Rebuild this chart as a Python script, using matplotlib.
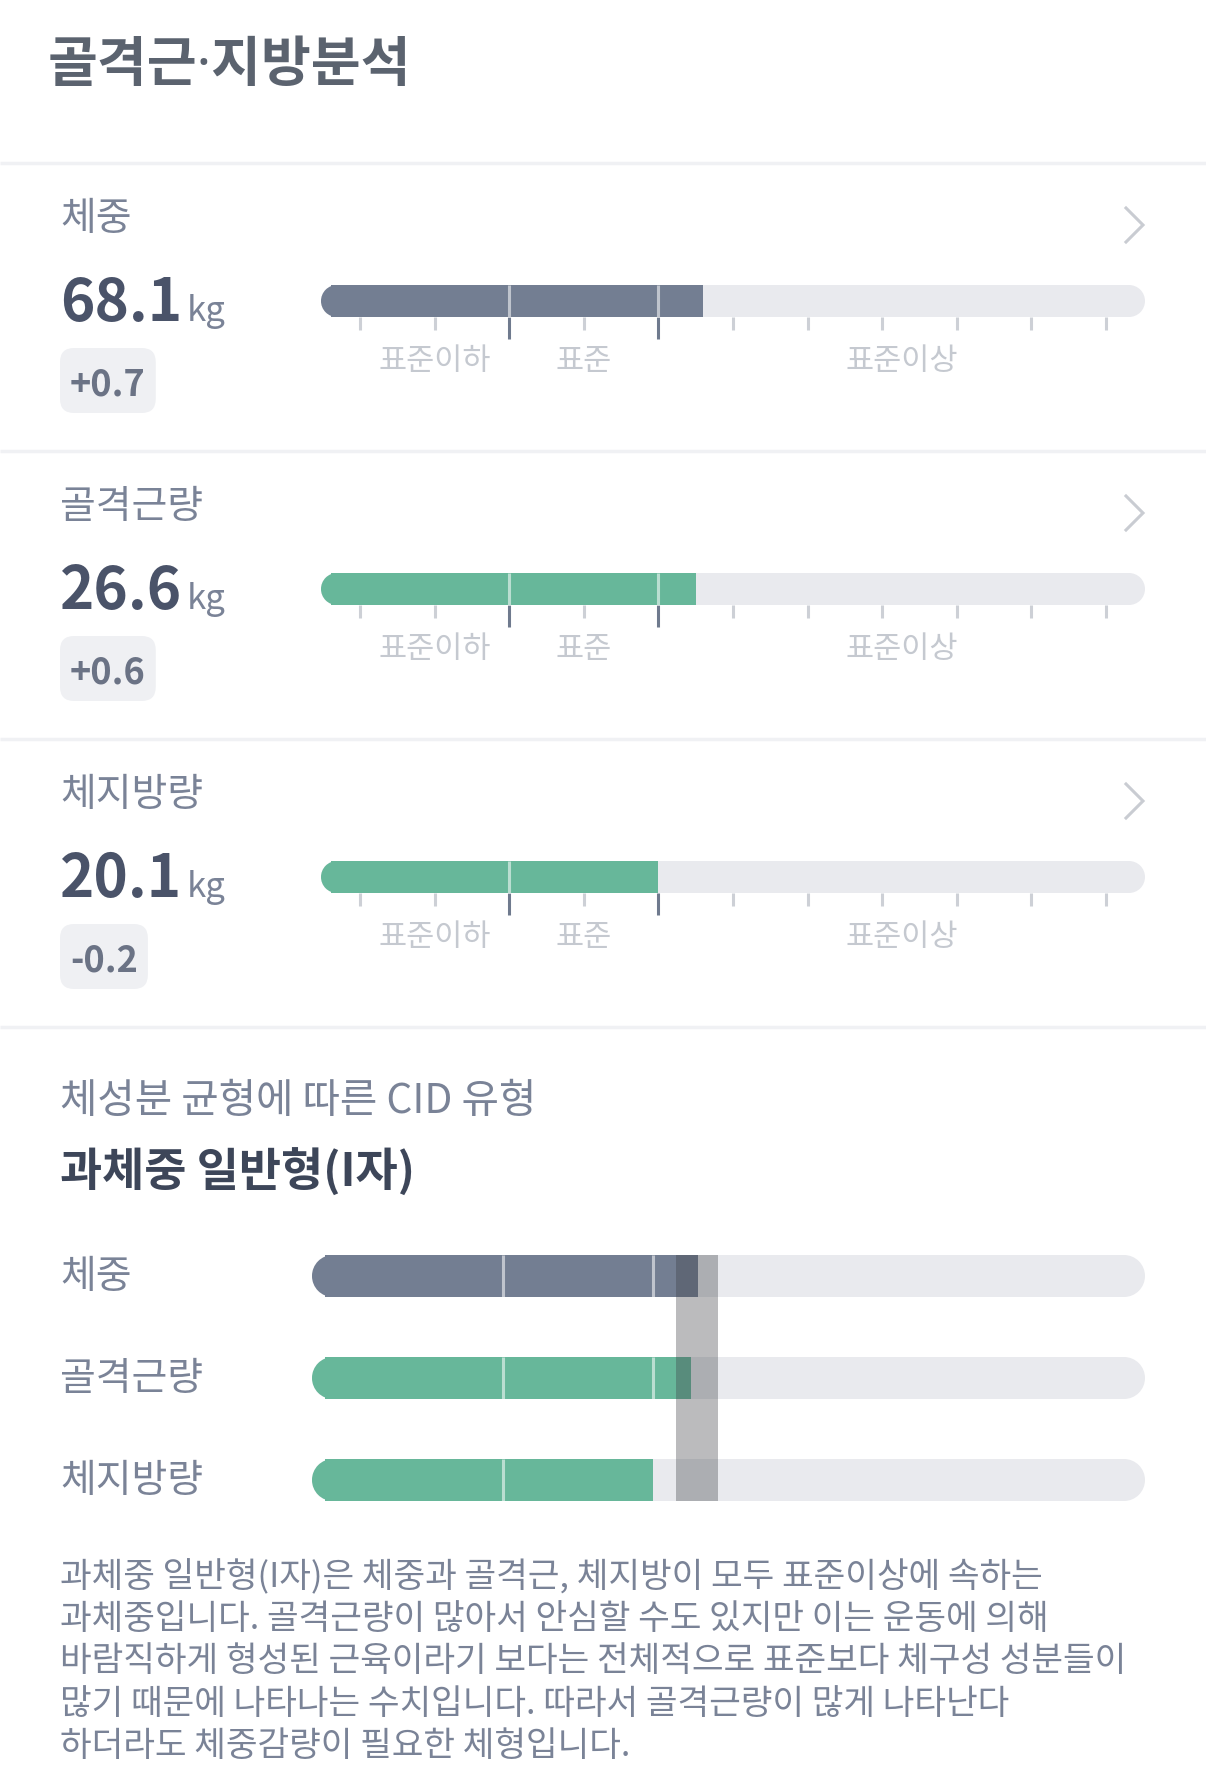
import numpy as np
import matplotlib
matplotlib.use('Agg')
import matplotlib.pyplot as plt
from matplotlib.patches import Ellipse, FancyBboxPatch

plt.rcParams['font.family'] = ['Noto Sans CJK KR', 'DejaVu Sans']

# data
metric_names = ['체중', '골격근량', '체지방량']
metric_values = [68.1, 26.6, 20.1]          # kg
metric_changes = [0.7, 0.6, -0.2]
metric_pct = [124, 115, 160]                # % of standard
metric_scales = [
    [55, 70, 85, 100, 115, 130, 145, 160, 175, 190, 205],
    [70, 80, 90, 100, 110, 120, 130, 140, 150, 160, 170],
    [40, 60, 80, 100, 160, 220, 280, 340, 400, 460, 520],
]
bar_colors = ['#737e92', '#67b79a', '#67b79a']
range_labels = ['표준이하', '표준', '표준이상']
range_label_pos = [1, 3, 7.27]   # in tick index
std_bounds = [2, 4]              # tick index of standard range edges
cid_band = (4.30, 4.86)          # tick index
cid_title = '체성분 균형에 따른 CID 유형'
cid_type = '과체중 일반형(I자)'
description = [
    '과체중 일반형(I자)은 체중과 골격근, 체지방이 모두 표준이상에 속하는',
    '과체중입니다. 골격근량이 많아서 안심할 수도 있지만 이는 운동에 의해',
    '바람직하게 형성된 근육이라기 보다는 전체적으로 표준보다 체구성 성분들이',
    '많기 때문에 나타나는 수치입니다. 따라서 골격근량이 많게 나타난다',
    '하더라도 체중감량이 필요한 체형입니다.',
]

W, H = 1206, 1783
BG_BAR = '#e9eaee'
LABEL_C = '#7a8397'
LO, HI = -0.53, 10.53

fig = plt.figure(figsize=(W / 100, H / 100), dpi=100)
ov = fig.add_axes([0, 0, 1, 1])
ov.set_xlim(0, W)
ov.set_ylim(H, 0)
ov.axis('off')


def px_axes(x0, y0, x1, y1):
    ax = fig.add_axes([x0 / W, 1 - y1 / H, (x1 - x0) / W, (y1 - y0) / H])
    ax.set_facecolor('none')
    ax.axis('off')
    return ax


def rounded_bar(ax, y, lo, hi, height, r, color, round_right=True, z=1):
    ax.add_patch(Ellipse((lo + r, y), 2 * r, height, color=color, lw=0, zorder=z))
    right = hi - r if round_right else hi
    ax.barh(y, right - (lo + r * 0.6), left=lo + r * 0.6, height=height,
            color=color, lw=0, zorder=z)
    if round_right:
        ax.add_patch(Ellipse((hi - r, y), 2 * r, height, color=color, lw=0, zorder=z))


renderer = fig.canvas.get_renderer()

# header
ov.text(48, 66, '골격근·지방분석', fontsize=39, fontweight='bold', color='#5b636f',
        va='center', ha='left', family=['Noto Sans', 'Noto Sans CJK KR'])

step = 288
for sep_y in [164, 164 + step, 164 + 2 * step, 164 + 3 * step]:
    ov.plot([0, W], [sep_y, sep_y], color='#f0f1f4', lw=2.5, solid_capstyle='butt')

for i, name in enumerate(metric_names):
    oy = i * step
    ov.text(60, 219 + oy, name, fontsize=28, color=LABEL_C, va='center', ha='left')
    # chevron
    ov.plot([1126, 1143, 1126], [209 + oy, 226 + oy, 243 + oy], color='#c9ccd2',
            lw=2.2, solid_joinstyle='miter')
    num = ov.text(60, 321 + oy, f'{metric_values[i]:.1f}', fontsize=42,
                  fontweight='bold', color='#4a5369', va='baseline', ha='left')
    bb = num.get_window_extent(renderer)
    ov.text(bb.x1 + 5, 321 + oy, 'kg', fontsize=25, color=LABEL_C,
            va='baseline', ha='left')
    # change badge
    ch = ov.text(0, 385 + oy, f'{metric_changes[i]:+.1f}', fontsize=26,
                 fontweight='bold', color='#6b7385', va='center', ha='left')
    cb = ch.get_window_extent(renderer)
    tw = cb.width
    bw = tw + 20
    ch.set_x(60 + (bw - tw) / 2)
    ov.add_patch(FancyBboxPatch((60, 349 + oy), bw, 65,
                                boxstyle='round,pad=0,rounding_size=14',
                                fc='#eff0f3', ec='none', zorder=0))

    # range bar
    ax = px_axes(321, 280 + oy, 1145, 380 + oy)
    ax.set_xlim(LO, HI)
    bar_px = 32
    ax.set_ylim(-(380 - 318) / bar_px, 1 + 6 / bar_px)
    r = (bar_px / 2) / (824 / (HI - LO))
    pos = np.interp(metric_pct[i], metric_scales[i], np.arange(11))
    rounded_bar(ax, 0.5, LO, HI, 1, r, BG_BAR, True, z=1)
    rounded_bar(ax, 0.5, LO, pos, 1, r, bar_colors[i], False, z=2)
    for b in std_bounds:
        if b < pos - 0.05:
            ax.vlines(b, 0, 1, color='white', alpha=0.55, lw=2.2, zorder=3)
    idx = np.arange(11)
    light = [k for k in idx if k not in std_bounds]
    ax.vlines(light, -13 / bar_px, 0, color='#cdd0d6', lw=2.2)
    ax.vlines(std_bounds, -22 / bar_px, 0, color='#6f7a8e', lw=2.2)
    for lab, lp in zip(range_labels, range_label_pos):
        ax.text(lp, -(362 - 318) / bar_px, lab, fontsize=22, color='#c5c9d0',
                ha='center', va='center')

# CID section
ov.text(60, 1102, cid_title, fontsize=29.3, color=LABEL_C, va='center', ha='left')
ov.text(60, 1173, cid_type, fontsize=33, fontweight='bold', color='#3d4659',
        va='center', ha='left')

row_px = 102
cax = px_axes(312, 1226, 1145, 1226 + 3 * row_px)
cax.set_xlim(LO, HI)
cax.set_ylim(2.5, -0.5)
h = 42 / row_px
rc = 21 / (833 / (HI - LO))
for i, name in enumerate(metric_names):
    ov.text(60, 1277 + i * row_px, name, fontsize=28, color=LABEL_C,
            va='center', ha='left')
    pos = np.interp(metric_pct[i], metric_scales[i], np.arange(11))
    rounded_bar(cax, i, LO, HI, h, rc, BG_BAR, True, z=1)
    rounded_bar(cax, i, LO, pos, h, rc, bar_colors[i], False, z=2)
    for b in std_bounds:
        if b < pos - 0.05:
            cax.vlines(b, i - h / 2, i + h / 2, color='white', alpha=0.55,
                       lw=2.2, zorder=3)
cax.fill_betweenx([-h / 2, 2 + h / 2], cid_band[0], cid_band[1],
                  color='#3c3e44', alpha=0.35, lw=0, zorder=4)

for k, line in enumerate(description):
    ov.text(60, 1577 + k * 42.5, line, fontsize=24.8, color=LABEL_C,
            va='center', ha='left')

fig.savefig('out.png', dpi=100, facecolor='white')
